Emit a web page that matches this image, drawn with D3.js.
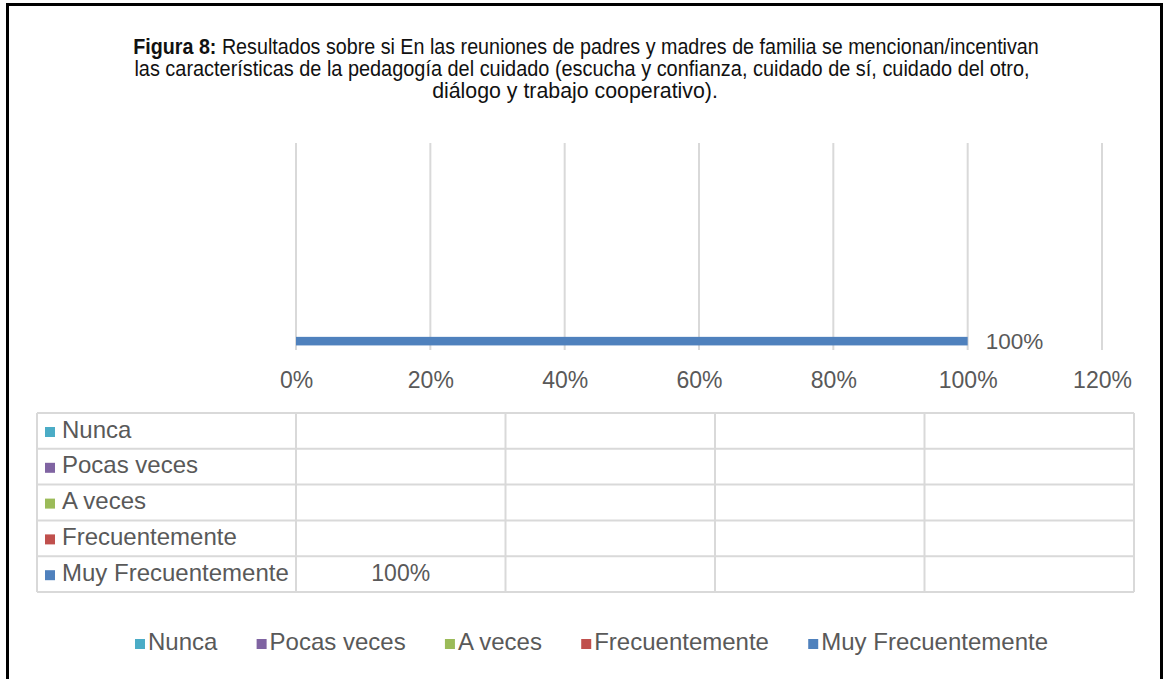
<!DOCTYPE html>
<html>
<head>
<meta charset="utf-8">
<script src="https://cdn.jsdelivr.net/npm/d3@7"></script>
<style>
  body { margin: 0; background: #fff; }
  svg text { font-family: "Liberation Sans", Arial, sans-serif; }
</style>
</head>
<body>
<div id="chart"></div>
<script>
// series (one per answer option)
var series = ["Nunca", "Pocas veces", "A veces", "Frecuentemente", "Muy Frecuentemente"];
var colors = ["#4BACC6", "#8064A2", "#9BBB59", "#C0504D", "#4F81BD"];
var values = [null, null, null, null, 1];
// data table: 4 columns, only the first one has a value
var tableCols = ["c1", "c2", "c3", "c4"];
var tableValues = [
  [null, null, null, null],
  [null, null, null, null],
  [null, null, null, null],
  [null, null, null, null],
  [1, null, null, null]
];
var xTicks = [0, 0.2, 0.4, 0.6, 0.8, 1.0, 1.2];
var titleLines = [
  "Resultados sobre si En las reuniones de padres y madres de familia se mencionan/incentivan",
  "las características de la pedagogía del cuidado (escucha y confianza, cuidado de sí, cuidado del otro,",
  "diálogo y trabajo cooperativo)."
];

var W = 1163, H = 679;
var plot = {left: 296, right: 1102, top: 143, bottom: 350};
var gray = "#595959", grid = "#d9d9d9";
var pct = d3.format(".0%");

var svg = d3.select("#chart").append("svg")
  .attr("width", W).attr("height", H);

// outer frame
svg.append("rect")
  .attr("x", 7.5).attr("y", 4.5)
  .attr("width", 1154).attr("height", 700)
  .attr("fill", "#fff").attr("stroke", "#000").attr("stroke-width", 3);

// title (narrow look: squeeze a normal font horizontally)
var titleWidths = [906, 896, 286];
var titleCx = [586, 582, 575];
titleLines.forEach(function(line, i) {
  var g = svg.append("g");
  var t = g.append("text")
    .attr("x", 0).attr("y", 0)
    .attr("text-anchor", "middle")
    .style("font-size", "22px").attr("fill", "#111");
  if (i == 0) t.append("tspan").style("font-weight", "bold").text("Figura 8: ");
  t.append("tspan").text(line);
  var sx = titleWidths[i] / t.node().getComputedTextLength();
  g.attr("transform", "translate(" + titleCx[i] + "," + (54 + 22 * i) + ") scale(" + sx + ",1)");
});

// scales
var x = d3.scaleLinear().domain([0, 1.2]).range([plot.left, plot.right]);
var y = d3.scaleBand().domain(series).range([300, 348]).paddingOuter(0.3);

// gridlines
svg.append("g").selectAll("line")
  .data(xTicks).enter().append("line")
  .attr("x1", function(d) { return x(d); })
  .attr("x2", function(d) { return x(d); })
  .attr("y1", plot.top).attr("y2", plot.bottom)
  .attr("stroke", grid).attr("stroke-width", 2);

// x axis labels
var xAxis = d3.axisBottom(x).tickValues(xTicks).tickFormat(pct).tickSize(0).tickPadding(0);
var gx = svg.append("g")
  .attr("transform", "translate(0," + 388 + ")")
  .call(xAxis);
gx.select(".domain").remove();
gx.selectAll("text")
  .attr("dy", 0).attr("y", 0)
  .attr("fill", gray)
  .style("font-size", "23px");

// bars
var barData = series.map(function(s, i) { return {name: s, value: values[i], color: colors[i]}; })
  .filter(function(d) { return d.value != null; });
svg.append("g").selectAll("rect")
  .data(barData).enter().append("rect")
  .attr("x", x(0))
  .attr("y", function(d) { return y(d.name); })
  .attr("width", function(d) { return x(d.value) - x(0); })
  .attr("height", y.bandwidth())
  .attr("fill", function(d) { return d.color; });

svg.append("g").selectAll("text")
  .data(barData).enter().append("text")
  .attr("x", function(d) { return x(d.value) + 18; })
  .attr("y", function(d) { return y(d.name) + y.bandwidth() / 2 + 8; })
  .attr("fill", gray)
  .style("font-size", "22.5px")
  .text(function(d) { return pct(d.value); });

// data table
var tLeft = 37, rowTop = 413, rowH = 35.8;
var colX = d3.scaleBand().domain(tableCols).range([plot.left, 1134]);
var rowY = d3.scaleBand().domain(series).range([rowTop, rowTop + rowH * series.length]);
var tbl = svg.append("g");

tbl.selectAll("line.h")
  .data(d3.range(series.length + 1)).enter().append("line")
  .attr("x1", tLeft).attr("x2", 1134)
  .attr("y1", function(i) { return rowTop + i * rowY.step(); })
  .attr("y2", function(i) { return rowTop + i * rowY.step(); })
  .attr("stroke", grid).attr("stroke-width", 2);

var vEdges = [tLeft].concat(tableCols.map(function(c) { return colX(c); }), [1134]);
tbl.selectAll("line.v")
  .data(vEdges).enter().append("line")
  .attr("x1", function(d) { return d; }).attr("x2", function(d) { return d; })
  .attr("y1", rowTop).attr("y2", rowTop + rowH * series.length)
  .attr("stroke", grid).attr("stroke-width", 2);

var rows = tbl.selectAll("g.row")
  .data(series).enter().append("g")
  .attr("transform", function(d) { return "translate(0," + rowY(d) + ")"; });

rows.append("rect")
  .attr("x", 45).attr("y", 14)
  .attr("width", 10).attr("height", 10)
  .attr("fill", function(d, i) { return colors[i]; });

rows.append("text")
  .attr("x", 62).attr("y", 24.5)
  .attr("fill", gray)
  .style("font-size", "24px")
  .text(function(d) { return d; });

rows.each(function(s, i) {
  d3.select(this).selectAll("text.val")
    .data(tableValues[i]).enter().append("text")
    .attr("class", "val")
    .attr("x", function(d, j) { return colX(tableCols[j]) + colX.bandwidth() / 2; })
    .attr("y", 24.5)
    .attr("text-anchor", "middle")
    .attr("fill", gray)
    .style("font-size", "23px")
    .text(function(d) { return d == null ? "" : pct(d); });
});

// bottom legend
var leg = svg.append("g");
var items = leg.selectAll("g")
  .data(series).enter().append("g");
items.append("rect")
  .attr("y", 639).attr("width", 10).attr("height", 10)
  .attr("fill", function(d, i) { return colors[i]; });
items.append("text")
  .attr("y", 650)
  .attr("fill", gray)
  .style("font-size", "24px")
  .text(function(d) { return d; });

var widths = [];
items.each(function() {
  widths.push(d3.select(this).select("text").node().getComputedTextLength());
});
var legStart = 135, legEnd = 1048;
var gap = (legEnd - legStart - d3.sum(widths) - series.length * 13) / (series.length - 1);
var pos = legStart;
items.each(function(d, i) {
  var g = d3.select(this);
  g.select("rect").attr("x", pos);
  g.select("text").attr("x", pos + 13);
  pos += 13 + widths[i] + gap;
});
</script>
</body>
</html>
